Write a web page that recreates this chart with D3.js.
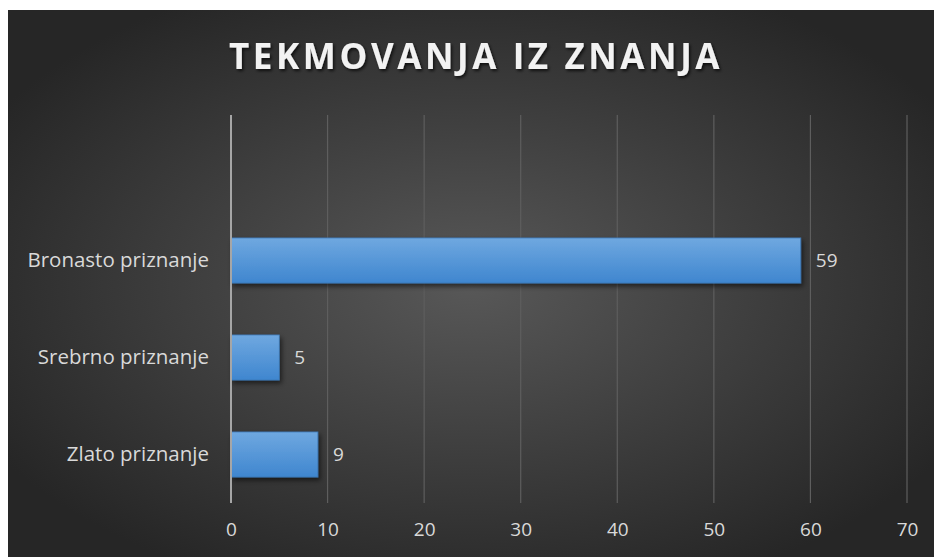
<!DOCTYPE html>
<html>
<head>
<meta charset='utf-8'>
<script src='https://d3js.org/d3.v7.min.js'></script>
<style>
  body {margin:0; background:#fff;}
  text {font-family:'Open Sans','Noto Sans',sans-serif;}
</style>
</head>
<body>
<svg id='chart' width='934' height='557'></svg>
<script>
// data
var categories=['','Bronasto priznanje','Srebrno priznanje','Zlato priznanje'];
var values=[null,59,5,9];
var ticks=[0,10,20,30,40,50,60,70];
var title='TEKMOVANJA IZ ZNANJA';

var svg=d3.select('#chart'),
    W=934,H=557,
    box={x:8,y:10,w:W-8,h:H-10},
    m={left:231,right:27,top:115,bottom:54};

var defs=svg.append('defs');
var bg=defs.append('radialGradient').attr('id','bg')
  .attr('cx','50%').attr('cy','50%').attr('r','60%');
bg.append('stop').attr('offset','0%').attr('stop-color','#585858');
bg.append('stop').attr('offset','100%').attr('stop-color','#262626');
var bar=defs.append('linearGradient').attr('id','barg')
  .attr('x1',0).attr('y1',0).attr('x2',0).attr('y2',1);
bar.append('stop').attr('offset','0%').attr('stop-color','#6fa8e0');
bar.append('stop').attr('offset','100%').attr('stop-color','#3f86cf');
var sh=defs.append('filter').attr('id','sh')
  .attr('x','-10%').attr('y','-30%').attr('width','130%').attr('height','180%');
sh.append('feDropShadow').attr('dx',2).attr('dy',3).attr('stdDeviation',2.5)
  .attr('flood-color','#000').attr('flood-opacity',0.55);
var tsh=defs.append('filter').attr('id','tsh')
  .attr('x','-10%').attr('y','-30%').attr('width','130%').attr('height','180%');
tsh.append('feDropShadow').attr('dx',1.5).attr('dy',2).attr('stdDeviation',1.5)
  .attr('flood-color','#000').attr('flood-opacity',0.7);

svg.append('rect').attr('x',box.x).attr('y',box.y)
   .attr('width',box.w).attr('height',box.h).attr('fill','url(#bg)');

var x=d3.scaleLinear().domain([0,70]).range([m.left,W-m.right]);
var y=d3.scaleBand().domain(categories)
        .range([m.top,H-m.bottom]).paddingInner(0.535).paddingOuter(0.2675);

// gridlines
svg.append('g').selectAll('line').data(ticks.slice(1)).enter().append('line')
   .attr('x1',function(d){return x(d);}).attr('x2',function(d){return x(d);})
   .attr('y1',m.top).attr('y2',H-m.bottom)
   .attr('stroke','#5e5e5e').attr('stroke-width',1.2);

// x axis labels
var xa=svg.append('g').attr('transform','translate(0,'+(H-m.bottom)+')')
  .call(d3.axisBottom(x).tickValues(ticks).tickSize(0).tickPadding(20));
xa.select('.domain').remove();
xa.selectAll('text').attr('fill','#d9d9d9').attr('font-size',19);

// bars
var cats=categories.filter(function(c){return c!=='';});
svg.append('g').selectAll('rect').data(cats).enter().append('rect')
   .attr('x',x(0)).attr('y',function(d){return y(d);})
   .attr('width',function(d){return x(values[categories.indexOf(d)])-x(0);})
   .attr('height',y.bandwidth())
   .attr('fill','url(#barg)').attr('stroke','#3c78b5').attr('stroke-width',0.8)
   .attr('filter','url(#sh)');

// value labels
svg.append('g').selectAll('text').data(cats).enter().append('text')
   .attr('x',function(d){return x(values[categories.indexOf(d)])+15;})
   .attr('y',function(d){return y(d)+y.bandwidth()/2;})
   .attr('dy','0.35em').attr('fill','#d9d9d9').attr('font-size',19)
   .text(function(d){return values[categories.indexOf(d)];});

// y axis labels
var ya=svg.append('g').attr('transform','translate('+m.left+',0)')
  .call(d3.axisLeft(y).tickSize(0).tickPadding(22));
ya.select('.domain').remove();
ya.selectAll('text').attr('fill','#d9d9d9').attr('font-size',20.5);

// vertical axis line
svg.append('line').attr('x1',x(0)).attr('x2',x(0))
   .attr('y1',m.top).attr('y2',H-m.bottom)
   .attr('stroke','#a6a6a6').attr('stroke-width',2);

// title
svg.append('text').attr('x',476).attr('y',69).attr('text-anchor','middle')
   .attr('fill','#f2f2f2').attr('font-size',35).attr('font-weight','bold')
   .attr('letter-spacing',3.6).attr('filter','url(#tsh)').text(title);
</script>
</body>
</html>
